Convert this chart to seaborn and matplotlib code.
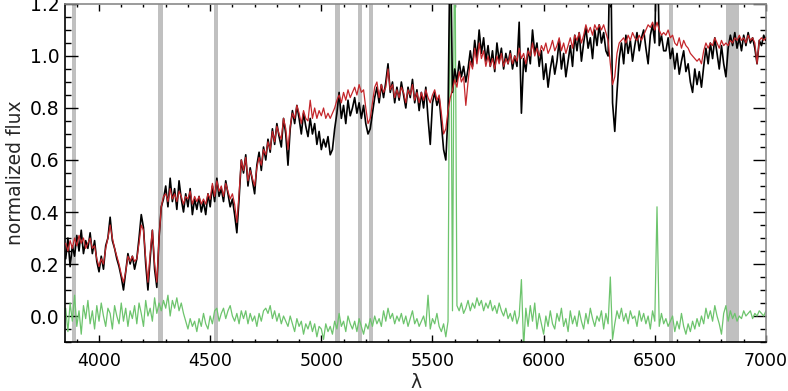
import numpy as np
import pandas as pd
import seaborn as sns
import matplotlib.pyplot as plt
from matplotlib.ticker import MultipleLocator

# wavelength grid of the table below (10 A steps)
wave = np.arange(3850, 7001, 10)

flux_obs = [
    0.22, 0.30, 0.19, 0.27, 0.23, 0.31, 0.25, 0.33, 0.24, 0.29,
    0.26, 0.32, 0.24, 0.29, 0.21, 0.17, 0.23, 0.18, 0.27, 0.30,
    0.38, 0.29, 0.26, 0.22, 0.19, 0.15, 0.10, 0.17, 0.24, 0.20,
    0.23, 0.18, 0.22, 0.30, 0.39, 0.34, 0.20, 0.10, 0.22, 0.33,
    0.18, 0.11, 0.30, 0.42, 0.45, 0.50, 0.42, 0.53, 0.44, 0.49,
    0.41, 0.52, 0.45, 0.40, 0.47, 0.42, 0.49, 0.39, 0.45, 0.41,
    0.46, 0.40, 0.44, 0.39, 0.47, 0.42, 0.50, 0.44, 0.53, 0.46,
    0.49, 0.44, 0.52, 0.47, 0.42, 0.45, 0.39, 0.32, 0.45, 0.60,
    0.55, 0.62, 0.50, 0.57, 0.52, 0.47, 0.58, 0.63, 0.56, 0.65,
    0.60, 0.68, 0.63, 0.72, 0.66, 0.74, 0.69, 0.65, 0.76, 0.70,
    0.58, 0.72, 0.79, 0.74, 0.81, 0.76, 0.70, 0.78, 0.73, 0.69,
    0.76, 0.70, 0.74, 0.66, 0.71, 0.64, 0.68, 0.65, 0.69, 0.62,
    0.64, 0.72, 0.78, 0.86, 0.76, 0.81, 0.74, 0.83, 0.77, 0.80,
    0.84, 0.78, 0.82, 0.76, 0.81, 0.74, 0.70, 0.72, 0.78, 0.84,
    0.88, 0.82, 0.89, 0.84, 0.90, 0.97, 0.86, 0.90, 0.82, 0.88,
    0.83, 0.90, 0.85, 0.80, 0.88, 0.84, 0.91, 0.82, 0.87, 0.79,
    0.86, 0.80, 0.88, 0.76, 0.66, 0.82, 0.86, 0.81, 0.84, 0.74,
    0.64, 0.60, 0.78, 1.50, 0.86, 0.95, 0.90, 0.98, 0.92, 0.96,
    0.90, 0.95, 1.02, 0.96, 1.06, 0.99, 1.10, 1.01, 1.07, 0.98,
    1.04, 0.96, 1.02, 0.94, 1.05, 0.98, 1.03, 0.95, 1.01, 0.97,
    1.02, 0.95, 1.00, 0.96, 1.13, 0.78, 0.99, 0.94, 1.03, 0.97,
    1.10, 1.01, 1.05, 0.96, 1.02, 0.91, 0.97, 0.88, 0.95, 1.00,
    0.93, 0.98, 1.06, 0.95, 1.01, 0.92, 0.98, 1.04, 0.96, 1.08,
    1.02, 1.09, 0.98, 1.05, 1.11, 1.03, 1.07, 0.99, 1.10, 1.04,
    1.12, 1.05, 1.09, 1.02, 1.00, 1.50, 0.82, 0.71, 0.86, 0.99,
    1.05, 0.97, 1.08, 1.01, 1.06, 0.98, 1.04, 1.09, 1.02, 1.07,
    1.10, 1.03, 0.97, 1.08, 1.12, 1.05, 1.50, 1.04, 1.08, 1.02,
    1.02, 1.07, 0.99, 1.03, 0.95, 1.01, 0.93, 0.98, 1.02, 0.94,
    0.97, 0.90, 0.86, 0.95, 0.89, 0.94, 0.88, 0.96, 1.03, 0.97,
    1.05, 0.99, 1.07, 1.01, 0.95, 1.04, 0.97, 0.92, 1.03, 1.08,
    1.04, 1.09, 1.03, 1.07, 1.02, 1.08, 1.04, 1.09, 1.05, 1.07,
    1.03, 0.97, 1.06, 1.04, 1.08, 1.06,
]

# best-fit model
flux_model = [
    0.28, 0.25, 0.29, 0.26, 0.30, 0.27, 0.31, 0.28, 0.30, 0.26,
    0.28, 0.30, 0.26, 0.27, 0.22, 0.19, 0.22, 0.20, 0.26, 0.30,
    0.35, 0.30, 0.26, 0.23, 0.20, 0.16, 0.13, 0.17, 0.23, 0.21,
    0.23, 0.21, 0.22, 0.28, 0.35, 0.33, 0.22, 0.13, 0.24, 0.33,
    0.20, 0.13, 0.30, 0.42, 0.46, 0.47, 0.44, 0.49, 0.45, 0.47,
    0.44, 0.48, 0.46, 0.43, 0.46, 0.45, 0.48, 0.43, 0.46, 0.44,
    0.46, 0.43, 0.45, 0.43, 0.47, 0.45, 0.51, 0.46, 0.52, 0.48,
    0.50, 0.46, 0.51, 0.48, 0.45, 0.47, 0.43, 0.36, 0.47, 0.60,
    0.56, 0.61, 0.52, 0.56, 0.53, 0.50, 0.57, 0.61, 0.58, 0.64,
    0.62, 0.67, 0.64, 0.71, 0.67, 0.73, 0.70, 0.68, 0.76, 0.72,
    0.64, 0.73, 0.78, 0.76, 0.81, 0.78, 0.74, 0.79, 0.76, 0.75,
    0.83, 0.76, 0.80, 0.76, 0.79, 0.77, 0.80, 0.76, 0.78, 0.76,
    0.78, 0.80, 0.83, 0.85, 0.82, 0.86, 0.83, 0.87, 0.84, 0.86,
    0.88, 0.85, 0.89, 0.86, 0.87, 0.80, 0.74, 0.76, 0.82, 0.88,
    0.90, 0.84, 0.89, 0.86, 0.88, 0.95, 0.87, 0.89, 0.84, 0.87,
    0.84, 0.88, 0.86, 0.82, 0.87, 0.85, 0.89, 0.83, 0.86, 0.82,
    0.86, 0.83, 0.87, 0.84, 0.82, 0.85, 0.87, 0.83, 0.85, 0.78,
    0.70, 0.72, 0.79, 0.84, 0.87, 0.91, 0.88, 0.94, 0.90, 0.92,
    0.81, 0.90, 0.98, 0.95, 1.03, 0.97, 1.05, 0.99, 1.02, 0.96,
    1.00, 0.96, 0.99, 0.95, 1.00, 0.97, 1.01, 0.96, 0.99, 0.97,
    1.01, 0.97, 1.00, 0.98, 1.03, 0.99, 1.01, 0.97, 1.02, 1.00,
    1.05, 1.00, 1.03, 1.00, 1.04, 1.02, 1.05, 1.01, 1.03, 1.06,
    1.02, 1.04, 1.07, 1.02, 1.05, 1.01, 1.04, 1.07, 1.03, 1.08,
    1.06, 1.09, 1.05, 1.08, 1.12, 1.09, 1.11, 1.08, 1.12, 1.10,
    1.12, 1.10, 1.12, 1.09, 1.06, 0.97, 0.89, 0.92, 1.01, 1.05,
    1.06, 1.07, 1.05, 1.08, 1.06, 1.09, 1.07, 1.06, 1.08, 1.06,
    1.08, 1.10, 1.12, 1.11, 1.13, 1.10, 1.13, 1.10, 1.08, 1.09,
    1.08, 1.10, 1.07, 1.08, 1.05, 1.04, 1.07, 1.03, 1.06, 1.04,
    1.03, 1.01, 1.00, 0.99, 0.98, 0.99, 0.97, 1.02, 1.05, 1.03,
    1.05, 1.04, 1.07, 1.05, 1.03, 1.06, 1.04, 1.05, 1.04, 1.06,
    1.05, 1.07, 1.06, 1.08, 1.06, 1.07, 1.05, 1.08, 1.06, 1.07,
    1.05, 0.97, 1.06, 1.07, 1.06, 1.07,
]

# residuals
resid = [
    0.03, -0.06, 0.05, -0.02, 0.08, -0.04, 0.02, -0.07, 0.04, -0.01,
    0.06, -0.03, 0.02, -0.05, 0.04, -0.02, 0.05, 0.00, -0.04, 0.03,
    0.01, -0.05, 0.04, 0.00, -0.03, 0.05, -0.02, 0.03, -0.04, 0.02,
    -0.01, 0.04, -0.03, 0.05, 0.01, -0.04, 0.06, 0.00, 0.03, -0.02,
    0.07, 0.01, 0.05, 0.02, 0.06, 0.03, 0.08, 0.00, 0.06, 0.03,
    0.07, 0.02, 0.05, 0.01, -0.02, -0.05, -0.01, -0.04, -0.02, -0.06,
    -0.01, -0.04, 0.01, -0.03, -0.05, 0.00, -0.03, 0.02, 0.03, -0.02,
    0.01, 0.03, -0.01, 0.02, 0.04, 0.00, -0.02, 0.01, -0.03, 0.02,
    -0.01, 0.02, -0.03, 0.01, -0.02, 0.00, -0.04, 0.01, -0.02, 0.02,
    0.03, 0.01, 0.04, -0.01, 0.02, -0.02, 0.01, -0.03, 0.00, -0.02,
    -0.04, 0.00, -0.03, -0.06, -0.01, -0.04, -0.02, -0.07, -0.03, -0.05,
    -0.02, -0.06, -0.03, -0.08, -0.04, -0.05, -0.09, -0.03, -0.06, -0.04,
    -0.07, -0.02, -0.05, 0.01, -0.04, -0.02, -0.06, 0.00, -0.03, -0.05,
    -0.02, -0.06, -0.01, -0.04, -0.07, -0.03, -0.05, -0.01, -0.04, 0.00,
    -0.03, -0.01, -0.04, 0.02, -0.02, 0.03, -0.01, 0.01, -0.03, 0.00,
    -0.02, 0.01, -0.03, 0.00, -0.04, -0.01, 0.02, -0.03, -0.01, -0.04,
    -0.02, 0.00, -0.04, 0.08, -0.05, -0.01, -0.03, 0.01, -0.04, -0.06,
    -0.03, -0.08, -0.02, 1.60, 0.02, 1.60, 0.04, 0.02, 0.05, 0.01,
    0.03, 0.06, 0.02, 0.05, 0.03, 0.07, 0.04, 0.06, 0.02, 0.05,
    0.03, 0.06, 0.02, 0.04, 0.01, 0.05, 0.02, 0.00, 0.03, -0.01,
    0.01, -0.02, 0.02, -0.03, 0.00, 0.14, -0.12, 0.03, -0.04, 0.04,
    -0.02, 0.05, -0.05, 0.01, -0.03, -0.07, 0.00, -0.04, 0.02, -0.03,
    -0.05, 0.01, -0.02, 0.03, -0.04, -0.01, -0.06, 0.02, -0.03, 0.00,
    -0.04, 0.02, -0.02, -0.05, 0.01, -0.03, 0.03, -0.01, -0.04, 0.00,
    -0.02, 0.02, -0.05, 0.01, -0.03, 0.15, -0.09, -0.03, 0.02, -0.01,
    0.03, -0.02, 0.01, -0.03, 0.02, -0.01, 0.00, -0.04, 0.02, -0.02,
    0.01, -0.03, 0.00, -0.05, 0.02, -0.02, 0.42, -0.04, 0.01, -0.03,
    -0.01, -0.04, -0.02, 0.00, -0.06, -0.02, -0.05, 0.01, -0.04, -0.07,
    -0.03, -0.06, -0.02, -0.05, -0.01, -0.04, 0.00, -0.03, 0.03, -0.01,
    0.02, -0.02, 0.04, 0.00, -0.03, -0.07, 0.01, 0.04, -0.02, 0.02,
    -0.01, 0.01, -0.02, 0.00, -0.01, 0.02, 0.00, 0.01, 0.02, -0.01,
    0.01, 0.00, 0.02, 0.01, 0.00, 0.02,
]

# masked wavelength windows (start, end)
mask_lo = [3880, 4267, 4517, 5062, 5164, 5214, 6562, 6820]
mask_hi = [3898, 4288, 4537, 5082, 5183, 5233, 6583, 6877]

df = pd.DataFrame({"wave": wave, "obs": flux_obs, "model": flux_model, "resid": resid})

sns.set_theme(style="ticks")
plt.rcParams["font.family"] = ["DejaVu Sans"]

fig, ax = plt.subplots(figsize=(7.88, 3.91), dpi=100)
fig.subplots_adjust(left=0.0825, right=0.972, bottom=0.1253, top=0.9898)

for lo, hi in zip(mask_lo, mask_hi):
    ax.axvspan(lo, hi, color="#c0c0c0", lw=0, zorder=0)

sns.lineplot(data=df, x="wave", y="resid", ax=ax, color="#6dc46d", lw=0.9,
             estimator=None, sort=False, zorder=2)
sns.lineplot(data=df, x="wave", y="obs", ax=ax, color="black", lw=1.2,
             estimator=None, sort=False, zorder=3)
sns.lineplot(data=df, x="wave", y="model", ax=ax, color="#c4262b", lw=0.9,
             estimator=None, sort=False, zorder=4)

ax.set_xlim(3847, 7000)
ax.set_ylim(-0.1, 1.2)
ax.xaxis.set_major_locator(MultipleLocator(500))
ax.xaxis.set_minor_locator(MultipleLocator(100))
ax.yaxis.set_major_locator(MultipleLocator(0.2))
ax.yaxis.set_minor_locator(MultipleLocator(0.05))
ax.yaxis.set_major_formatter(plt.FormatStrFormatter("%.1f"))

ax.tick_params(axis="both", which="both", direction="in", top=True, right=True,
               colors="black", width=1)
ax.tick_params(axis="x", which="major", length=5, pad=7.5, labelsize=12.5)
ax.tick_params(axis="x", which="minor", length=2.5)
ax.tick_params(axis="y", which="major", length=9.5, pad=4, labelsize=13.5)
ax.tick_params(axis="y", which="minor", length=4.5)

for side in ["left", "bottom"]:
    ax.spines[side].set_color("black")
    ax.spines[side].set_linewidth(1.2)
for side in ["top", "right"]:
    ax.spines[side].set_color("#8a8a8a")
    ax.spines[side].set_linewidth(1.2)

ax.set_xlabel("λ", fontsize=13.5)
ax.set_ylabel("normalized flux", fontsize=13.5)
ax.xaxis.label.set_va("baseline")
ax.xaxis.set_label_coords(0.5, -0.136)
ax.yaxis.set_label_coords(-0.057, 0.5)

fig.savefig("out.png", dpi=100, facecolor="white")
